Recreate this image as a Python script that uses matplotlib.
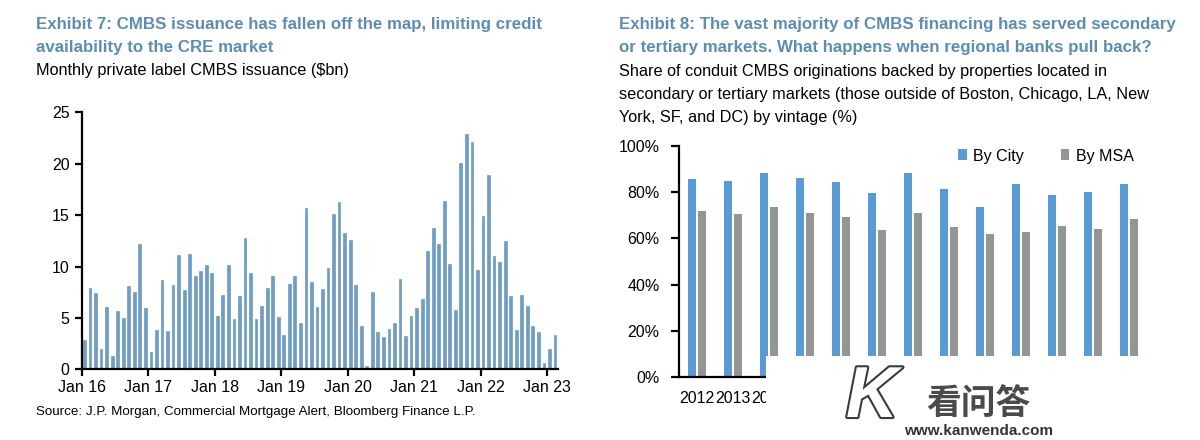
import numpy as np
import matplotlib.pyplot as plt
from matplotlib.patches import Rectangle
import matplotlib.patheffects as pe

# Exhibit 7: monthly private label CMBS issuance ($bn), Jan 2016 - Feb 2023
issuance = [
    2.85, 7.9, 7.4, 2.0, 6.1, 1.3, 5.7, 5.0, 8.1, 7.5, 12.2, 6.0,       # 2016
    1.7, 3.8, 8.7, 3.7, 8.2, 11.1, 7.7, 11.2, 9.1, 9.6, 10.1, 9.4,      # 2017
    5.2, 7.2, 10.1, 4.9, 7.1, 12.8, 9.4, 4.9, 6.2, 7.9, 9.1, 5.1,       # 2018
    3.3, 8.3, 9.1, 4.5, 15.7, 8.5, 6.1, 7.8, 9.9, 15.1, 16.3, 13.3,     # 2019
    12.6, 8.2, 4.2, 0.3, 7.5, 3.6, 3.1, 3.9, 4.5, 8.8, 3.2, 5.2,        # 2020
    6.0, 6.8, 11.5, 13.7, 12.2, 16.4, 10.2, 5.8, 20.1, 22.9, 22.1, 9.7, # 2021
    14.9, 18.9, 11.0, 10.4, 12.5, 7.1, 3.8, 7.2, 6.2, 4.2, 3.6, 0.65,   # 2022
    2.0, 3.3,                                                           # 2023
]
year_labels = ["Jan 16", "Jan 17", "Jan 18", "Jan 19", "Jan 20", "Jan 21", "Jan 22", "Jan 23"]

# Exhibit 8: share of conduit CMBS originations outside top markets (%)
vintages = ["2012", "2013", "2014", "2015", "2016", "2017", "2018",
            "2019", "2020", "2021", "2022", "2023", "2024"]
by_city = [85.7, 84.8, 88.4, 86.0, 84.5, 79.6, 88.2, 81.5, 73.8, 83.7, 79.0, 80.3, 83.7]
by_msa = [71.7, 70.5, 73.4, 71.0, 69.1, 63.6, 70.8, 65.0, 61.7, 62.9, 65.3, 63.9, 68.2]

title_col = "#5e8db3"
bar_col = "#6f9ec5"
city_col = "#5b9bd5"
msa_col = "#959595"

plt.rcParams['font.family'] = ['Liberation Sans', 'DejaVu Sans']
W, H = 1200, 440
fig = plt.figure(figsize=(12, 4.4), dpi=100)


def fx(x):
    return x / W


def fy(y):
    return 1 - y / H


title_font = dict(weight='bold', fontsize=12.2, color=title_col, va='baseline')
sub_font = dict(fontsize=11.7, color='black', va='baseline')

# ---- left panel text
fig.text(fx(36), fy(29), "Exhibit 7: CMBS issuance has fallen off the map, limiting credit", **title_font)
fig.text(fx(36), fy(52), "availability to the CRE market", **title_font)
fig.text(fx(36), fy(75), "Monthly private label CMBS issuance ($bn)", **sub_font)
fig.text(fx(36), fy(415), "Source: J.P. Morgan, Commercial Mortgage Alert, Bloomberg Finance L.P.",
         fontsize=9.6, va='baseline')

# ---- right panel text
fig.text(fx(619), fy(29), "Exhibit 8: The vast majority of CMBS financing has served secondary", **title_font)
fig.text(fx(619), fy(52), "or tertiary markets. What happens when regional banks pull back?", **title_font)
fig.text(fx(619), fy(76), "Share of conduit CMBS originations backed by properties located in", **sub_font)
fig.text(fx(619), fy(99), "secondary or tertiary markets (those outside of Boston, Chicago, LA, New", **sub_font)
fig.text(fx(619), fy(122), "York, SF, and DC) by vintage (%)", **sub_font)

# ---- left chart
ax1 = fig.add_axes([fx(82), fy(369.3), (558 - 82) / W, (369.3 - 112.3) / H])
x = np.arange(len(issuance)) + 0.45
ax1.bar(x, issuance, width=0.5, color=bar_col, edgecolor='#5f8db5', linewidth=0.4)
ax1.set_xlim(0, 86)
ax1.set_ylim(0, 25)
ax1.set_yticks(range(0, 26, 5))
ax1.set_xticks(np.arange(len(year_labels)) * 12)
ax1.set_xticklabels(year_labels)
for s in ['top', 'right']:
    ax1.spines[s].set_visible(False)
for s in ['left', 'bottom']:
    ax1.spines[s].set_linewidth(1.6)
ax1.tick_params(axis='both', direction='out', length=5, width=1.6, labelsize=11.5)
ax1.tick_params(axis='y', pad=4)
ax1.tick_params(axis='x', pad=3)

# ---- right chart
ax2 = fig.add_axes([fx(679), fy(377), (1147 - 679) / W, (377 - 146) / H])
g = np.arange(len(vintages))
bw = 0.22
ax2.bar(g - 0.14, by_city, width=bw, color=city_col, label="By City")
ax2.bar(g + 0.14, by_msa, width=bw, color=msa_col, label="By MSA")
ax2.set_xlim(-0.5, len(vintages) - 0.5)
ax2.set_ylim(0, 100)
ax2.set_yticks(range(0, 101, 20))
ax2.set_yticklabels([f"{v}%" for v in range(0, 101, 20)])
ax2.set_xticks(g)
ax2.set_xticklabels(vintages)
# labels from 2015 on sit fully under the watermark patch
for lab in ax2.get_xticklabels()[3:]:
    lab.set_visible(False)
for s in ['top', 'right']:
    ax2.spines[s].set_visible(False)
for s in ['left', 'bottom']:
    ax2.spines[s].set_linewidth(1.6)
ax2.tick_params(axis='y', direction='out', length=6, width=1.6, labelsize=11.5, pad=8)
ax2.tick_params(axis='x', length=0, labelsize=11.5, pad=10)
ax2.legend(loc='center left', bbox_to_anchor=(fx(950), fy(156)), bbox_transform=fig.transFigure,
           ncol=2, frameon=False, fontsize=11.5, borderpad=0, handlelength=0.55,
           handleheight=0.7, handletextpad=0.4, columnspacing=2.3)

# ---- watermark patch covering lower part of the right chart
fig.patches.append(Rectangle((fx(766), 0), 1 - fx(766), fy(356), transform=fig.transFigure,
                             facecolor='white', edgecolor='none', zorder=10))
fig.text(fx(872), fy(432), "K", fontsize=52, fontstyle='italic', fontweight='bold', color='white',
         ha='center', va='bottom', zorder=11,
         path_effects=[pe.Stroke(linewidth=3, foreground='#3a3a3a'), pe.Normal()])
fig.text(fx(978), fy(414), "看问答", family=['Noto Sans CJK SC', 'DejaVu Sans'], fontsize=25,
         fontweight='bold', color='#4a4a4a', ha='center', va='baseline', zorder=11)
fig.text(fx(979), fy(435), "www.kanwenda.com", fontsize=11, fontweight='bold', color='#333333',
         ha='center', va='baseline', zorder=11)

fig.savefig("out.png", dpi=100)
